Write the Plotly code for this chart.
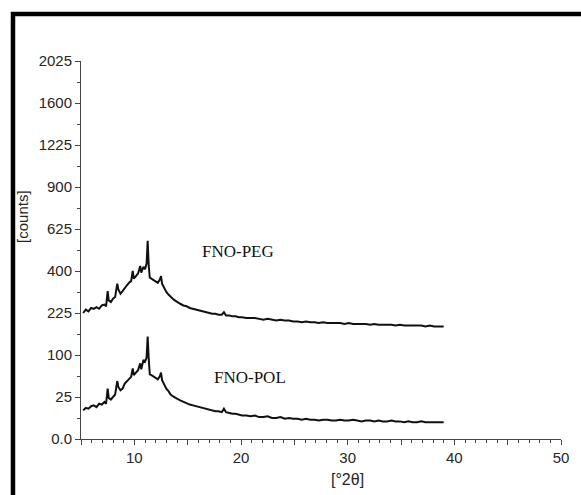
import numpy as np
import plotly.graph_objects as go

# 2-theta positions (degrees)
two_theta = [5.2, 5.45, 5.7, 5.95, 6.2, 6.45, 6.7, 6.95, 7.2, 7.35,
             7.5, 7.6, 7.8, 8.0, 8.2, 8.4, 8.5, 8.7, 8.9, 9.1,
             9.3, 9.5, 9.7, 9.85, 9.95, 10.15, 10.35, 10.55, 10.65, 10.85,
             11.0, 11.15, 11.25, 11.35, 11.45, 11.6, 11.8, 12.0, 12.2, 12.4,
             12.5, 12.6, 12.8, 13.0, 13.2, 13.4, 13.6, 13.8, 14.0, 14.3,
             14.6, 14.9, 15.2, 15.5, 15.8, 16.1, 16.4, 16.7, 17.0, 17.3,
             17.6, 17.9, 18.2, 18.4, 18.6, 18.9, 19.2, 19.5, 19.8, 20.1,
             20.5, 20.9, 21.3, 21.7, 22.1, 22.5, 22.9, 23.3, 23.7, 24.1,
             24.5, 24.9, 25.3, 25.7, 26.1, 26.5, 26.9, 27.3, 27.7, 28.1,
             28.5, 28.9, 29.3, 29.7, 30.1, 30.5, 30.9, 31.3, 31.7, 32.1,
             32.5, 32.9, 33.3, 33.7, 34.1, 34.5, 34.9, 35.3, 35.7, 36.1,
             36.5, 36.9, 37.3, 37.7, 38.1, 38.5, 39.0]

# FNO-POL counts
counts_pol = [11.6, 13.7, 13.0, 15.2, 16.0, 14.4, 17.6, 16.8, 19.4, 17.6,
              36.0, 24.0, 22.1, 25.0, 28.1, 47.6, 38.4, 33.6, 36.0, 43.6,
              47.6, 50.4, 54.8, 70.6, 57.8, 62.4, 67.2, 81.0, 68.9, 88.4,
              84.6, 94.1, 148.8, 90.3, 59.3, 57.8, 54.8, 53.3, 50.4, 56.3,
              62.4, 49.0, 41.0, 36.0, 32.5, 28.1, 26.0, 24.0, 23.0, 21.2,
              19.4, 18.5, 16.8, 16.0, 15.2, 14.4, 13.7, 13.0, 12.3, 11.6,
              10.9, 10.9, 10.2, 13.0, 10.2, 9.6, 9.0, 9.0, 8.4, 7.8,
              7.8, 7.3, 7.8, 6.8, 6.8, 7.3, 6.3, 6.3, 6.8, 5.8,
              6.3, 5.8, 5.8, 5.3, 5.8, 5.3, 5.3, 4.8, 5.3, 5.3,
              4.8, 4.8, 5.3, 4.8, 4.8, 5.3, 4.8, 4.4, 4.8, 4.8,
              4.4, 4.8, 4.4, 4.4, 4.8, 4.4, 4.4, 4.0, 4.4, 4.0,
              4.0, 4.4, 4.0, 4.0, 4.0, 4.0, 4.0]

# FNO-PEG counts (stacked trace as displayed)
counts_peg = [225.0, 237.2, 231.0, 243.4, 240.3, 246.5, 240.3, 252.8, 256.0, 249.6,
              309.8, 272.3, 265.7, 278.9, 285.6, 342.3, 316.8, 299.3, 309.8, 324.0,
              334.9, 346.0, 353.4, 400.0, 364.8, 376.4, 388.1, 424.4, 392.0, 420.3,
              408.0, 436.8, 557.0, 424.4, 368.6, 364.8, 357.2, 353.4, 346.0, 361.0,
              376.4, 342.3, 320.4, 306.3, 295.8, 285.6, 278.9, 272.3, 265.7, 259.2,
              252.8, 249.6, 243.4, 240.3, 237.2, 234.1, 231.0, 228.0, 225.0, 222.0,
              222.0, 219.0, 219.0, 228.0, 216.1, 216.1, 213.2, 213.2, 210.3, 210.3,
              207.4, 207.4, 207.4, 204.5, 201.6, 204.5, 201.6, 198.8, 201.6, 198.8,
              198.8, 196.0, 196.0, 193.2, 196.0, 193.2, 193.2, 190.4, 193.2, 190.4,
              190.4, 190.4, 190.4, 187.7, 190.4, 187.7, 187.7, 187.7, 187.7, 185.0,
              187.7, 185.0, 185.0, 185.0, 185.0, 182.3, 185.0, 182.3, 182.3, 182.3,
              182.3, 182.3, 179.6, 182.3, 179.6, 179.6, 179.6]

y_tick_counts = [0, 25, 100, 225, 400, 625, 900, 1225, 1600, 2025]
y_tick_labels = ["0.0", "25", "100", "225", "400", "625", "900", "1225", "1600", "2025"]
x_tick_vals = [5, 10, 15, 20, 25, 30, 35, 40, 45, 50]
x_tick_labels = ["", "10", "", "20", "", "30", "", "40", "", "50"]

fig = go.Figure()
for name, c in [("FNO-POL", counts_pol), ("FNO-PEG", counts_peg)]:
    fig.add_trace(go.Scatter(x=two_theta, y=np.sqrt(np.array(c)), mode="lines",
                             line=dict(color="#111111", width=2), name=name,
                             showlegend=False))

tick_font = dict(family="Liberation Sans, Arial, sans-serif", size=15, color="#262626")

fig.update_layout(
    width=581, height=495,
    margin=dict(l=81, r=13, t=61, b=56),
    plot_bgcolor="white", paper_bgcolor="white",
    xaxis=dict(range=[5, 50], tickvals=x_tick_vals, ticktext=x_tick_labels,
               ticks="outside", ticklen=5, tickwidth=1, tickcolor="#444",
               showline=True, linecolor="#444", linewidth=1,
               showgrid=False, zeroline=False, tickfont=tick_font,
               minor=dict(dtick=1, tick0=0, ticks="outside", ticklen=3,
                          tickcolor="#444", showgrid=False)),
    yaxis=dict(range=[0, 45], tickvals=[float(np.sqrt(v)) for v in y_tick_counts],
               ticktext=y_tick_labels,
               ticks="outside", ticklen=5, tickwidth=1, tickcolor="#444",
               showline=True, linecolor="#444", linewidth=1,
               showgrid=False, zeroline=False, tickfont=tick_font,
               minor=dict(dtick=5, tick0=2.5, ticks="outside", ticklen=3,
                          tickcolor="#444", showgrid=False)),
    annotations=[
        dict(text="[counts]", xref="paper", yref="paper", x=-0.121, y=0.59,
             xanchor="center", yanchor="middle",
             textangle=-90, showarrow=False,
             font=dict(family="Liberation Sans, Arial, sans-serif", size=15, color="#262626")),
        dict(text="[°2θ]", xref="x", yref="paper", x=30.0, y=-0.106,
             xanchor="center", yanchor="middle",
             showarrow=False,
             font=dict(family="Liberation Sans, Arial, sans-serif", size=16, color="#262626")),
        dict(text="FNO-PEG", xref="x", yref="y", x=19.7, y=22.3, showarrow=False,
             xanchor="center", yanchor="middle",
             font=dict(family="Liberation Serif, Times New Roman, serif", size=17, color="#111")),
        dict(text="FNO-POL", xref="x", yref="y", x=20.8, y=7.35, showarrow=False,
             xanchor="center", yanchor="middle",
             font=dict(family="Liberation Serif, Times New Roman, serif", size=17, color="#111")),
    ],
    shapes=[
        dict(type="rect", xref="paper", yref="paper",
             x0=(12 - 81) / 487, x1=(640 - 81) / 487,
             y0=(439 - 560) / 378, y1=(439 - 14) / 378,
             line=dict(color="black", width=4.5), fillcolor="rgba(0,0,0,0)"),
    ],
)

fig.write_html("out.html")
